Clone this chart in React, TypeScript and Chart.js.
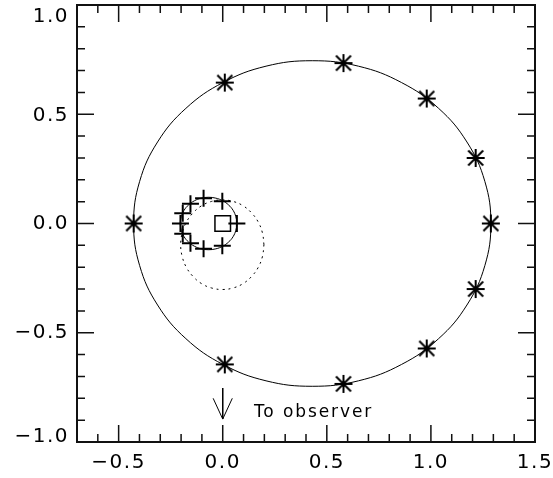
import React, { useEffect, useRef } from 'react';
import { Chart, registerables } from 'chart.js';

Chart.register(...registerables);

// Outer orbit (solid line)
const bigOrbitX = [1.288, 1.259, 1.173, 1.037, 0.859, 0.652, 0.430, 0.208, 0.001, -0.177, -0.313, -0.399, -0.428, -0.399, -0.313, -0.177, 0.001, 0.208, 0.430, 0.652, 0.859, 1.037, 1.173, 1.259];
const bigOrbitY = [0, 0.193, 0.373, 0.527, 0.645, 0.720, 0.745, 0.720, 0.645, 0.527, 0.373, 0.193, 0, -0.193, -0.373, -0.527, -0.645, -0.720, -0.745, -0.720, -0.645, -0.527, -0.373, -0.193];

// Inner orbit (solid line)
const smallOrbitX = [0.068, 0.063, 0.050, 0.028, 0.000, -0.033, -0.068, -0.103, -0.136, -0.164, -0.186, -0.199, -0.204, -0.199, -0.186, -0.164, -0.136, -0.103, -0.068, -0.033, 0.000, 0.028, 0.050, 0.063];
const smallOrbitY = [0, 0.031, 0.060, 0.085, 0.104, 0.116, 0.120, 0.116, 0.104, 0.085, 0.060, 0.031, 0, -0.031, -0.060, -0.085, -0.104, -0.116, -0.120, -0.116, -0.104, -0.085, -0.060, -0.031];

// Dotted circle
const dottedX = [0.198, 0.191, 0.171, 0.139, 0.098, 0.050, -0.002, -0.054, -0.102, -0.143, -0.175, -0.195, -0.202, -0.195, -0.175, -0.143, -0.102, -0.054, -0.002, 0.050, 0.098, 0.139, 0.171, 0.191];
const dottedY = [-0.097, -0.044, 0.006, 0.048, 0.081, 0.101, 0.108, 0.101, 0.081, 0.048, 0.006, -0.044, -0.097, -0.150, -0.200, -0.242, -0.275, -0.295, -0.302, -0.295, -0.275, -0.242, -0.200, -0.150];

// Asterisk markers on the outer orbit
const asteriskX = [-0.428, 0.01, 0.58, 0.98, 1.215, 1.288, 1.215, 0.98, 0.58, 0.01];
const asteriskY = [0, 0.645, 0.734, 0.572, 0.30, 0, -0.30, -0.572, -0.734, -0.645];

// Plus markers on the inner orbit
const plusX = [0.068, -0.002, -0.092, -0.155, -0.192, -0.203, -0.192, -0.155, -0.092, -0.002];
const plusY = [0, -0.102, -0.116, -0.09, -0.047, 0, 0.047, 0.09, 0.116, 0.102];

// Centre square
const centreX = [0.0];
const centreY = [0.0];

// "To observer" arrow
const arrowShaftX = [0, 0];
const arrowShaftY = [-0.753, -0.895];
const arrowHeadX = [-0.046, 0, 0.046];
const arrowHeadY = [-0.80, -0.895, -0.80];
const observerLabel = 'To observer';
const observerLabelX = 0.15;
const observerLabelY = -0.885;

// Axes
const xMin = -0.7;
const xMax = 1.5;
const yMin = -1.0;
const yMax = 1.0;
const xMajorTicks = [-0.5, 0.0, 0.5, 1.0, 1.5];
const xTickLabels = ['\u22120.5', '0.0', '0.5', '1.0', '1.5'];
const xMinorTicks = [-0.7, -0.6, -0.4, -0.3, -0.2, -0.1, 0.1, 0.2, 0.3, 0.4, 0.6, 0.7, 0.8, 0.9, 1.1, 1.2, 1.3, 1.4];
const yMajorTicks = [-1.0, -0.5, 0.0, 0.5, 1.0];
const yTickLabels = ['\u22121.0', '\u22120.5', '0.0', '0.5', '1.0'];
const yMinorTicks = [-0.9, -0.8, -0.7, -0.6, -0.4, -0.3, -0.2, -0.1, 0.1, 0.2, 0.3, 0.4, 0.6, 0.7, 0.8, 0.9];

// style only: vertical nudges of the y labels (px)
const yLabelNudge = [-5, 0, 0, 2, 12];

const pts = (xs: number[], ys: number[]) => xs.map((x, i) => ({ x, y: ys[i] }));
// closed smooth loop: wrap three points so the seam gets proper tangents
const loopPts = (xs: number[], ys: number[]) => {
  const p = pts(xs, ys);
  return p.concat([p[0], p[1], p[2]]);
};

function makeAsterisk(): HTMLCanvasElement {
  const c = document.createElement('canvas');
  c.width = 20;
  c.height = 20;
  const g = c.getContext('2d')!;
  g.strokeStyle = '#000';
  g.lineWidth = 2;
  g.beginPath();
  g.moveTo(10, 1); g.lineTo(10, 19);
  g.moveTo(1, 10); g.lineTo(19, 10);
  g.moveTo(2.5, 2.5); g.lineTo(17.5, 17.5);
  g.moveTo(17.5, 2.5); g.lineTo(2.5, 17.5);
  g.stroke();
  return c;
}

const framePlugin = {
  id: 'idlFrame',
  beforeDraw(chart: any) {
    chart.ctx.letterSpacing = '1.5px';
  },
  afterDraw(chart: any) {
    const ctx = chart.ctx as CanvasRenderingContext2D;
    const { left, right, top, bottom } = chart.chartArea;
    const xs = chart.scales.x;
    const ys = chart.scales.y;
    ctx.save();
    ctx.strokeStyle = '#111';
    ctx.lineWidth = 1.5;
    ctx.beginPath();
    const major = 17;
    const minor = 8;
    xMajorTicks.concat(xMinorTicks).forEach((v) => {
      const len = xMajorTicks.includes(v) ? major : minor;
      const px = xs.getPixelForValue(v);
      ctx.moveTo(px, bottom); ctx.lineTo(px, bottom - len);
      ctx.moveTo(px, top); ctx.lineTo(px, top + len);
    });
    yMajorTicks.concat(yMinorTicks).forEach((v) => {
      const len = yMajorTicks.includes(v) ? major : minor;
      const py = ys.getPixelForValue(v);
      ctx.moveTo(left, py); ctx.lineTo(left + len, py);
      ctx.moveTo(right, py); ctx.lineTo(right - len, py);
    });
    ctx.stroke();
    ctx.lineWidth = 2;
    ctx.strokeRect(left, top, right - left, bottom - top);

    ctx.fillStyle = '#000';
    ctx.font = '20px "DejaVu Sans"';
    (ctx as any).letterSpacing = '1.5px';
    ctx.textAlign = 'right';
    ctx.textBaseline = 'middle';
    yMajorTicks.forEach((v, i) => {
      ctx.fillText(yTickLabels[i], left - 8, ys.getPixelForValue(v) + yLabelNudge[i]);
    });

    (ctx as any).letterSpacing = '1.9px';
    ctx.font = '17px "DejaVu Sans"';
    ctx.textAlign = 'left';
    ctx.textBaseline = 'alphabetic';
    ctx.fillText(observerLabel, xs.getPixelForValue(observerLabelX), ys.getPixelForValue(observerLabelY));
    ctx.restore();
    (ctx as any).letterSpacing = '0px';
  },
};

export default function App() {
  const ref = useRef<HTMLCanvasElement | null>(null);
  useEffect(() => {
    if (!ref.current) return;
    const asterisk = makeAsterisk();
    const lineDs = (data: any[], extra: any = {}) => ({
      data,
      showLine: true,
      pointRadius: 0,
      borderColor: '#000',
      borderWidth: 1,
      fill: false,
      ...extra,
    });
    // hide the first and last segments of a wrapped loop (their tangents are one-sided)
    const loopDs = (data: any[], extra: any = {}) =>
      lineDs(data, {
        tension: 0.4,
        segment: {
          borderColor: (c: any) =>
            c.p0DataIndex === 0 || c.p1DataIndex === data.length - 1 ? 'rgba(0,0,0,0)' : '#000',
        },
        ...extra,
      });
    const chart = new Chart(ref.current, {
      type: 'scatter',
      data: {
        datasets: [
          {
            data: pts(asteriskX, asteriskY),
            showLine: false,
            pointStyle: asterisk as any,
            pointRadius: 10,
            borderColor: '#000',
          },
          {
            data: pts(plusX, plusY),
            showLine: false,
            pointStyle: 'cross',
            pointRadius: 8.5,
            borderWidth: 2,
            borderColor: '#000',
          },
          {
            data: pts(centreX, centreY),
            showLine: false,
            pointStyle: 'rect',
            pointRadius: 11,
            borderWidth: 1.5,
            borderColor: '#000',
            backgroundColor: 'rgba(0,0,0,0)',
          },
          loopDs(loopPts(bigOrbitX, bigOrbitY)),
          loopDs(loopPts(smallOrbitX, smallOrbitY)),
          lineDs(pts(dottedX, dottedY).concat([{ x: dottedX[0], y: dottedY[0] }]), { tension: 0.4, borderDash: [2, 4] }),
          lineDs(pts(arrowShaftX, arrowShaftY)),
          lineDs(pts(arrowHeadX, arrowHeadY)),
        ],
      },
      options: {
        responsive: false,
        animation: false,
        events: [],
        layout: { autoPadding: false, padding: { top: 5, right: 18, left: 0, bottom: 0 } },
        plugins: { legend: { display: false }, tooltip: { enabled: false } },
        scales: {
          x: {
            type: 'linear',
            min: xMin,
            max: xMax,
            grid: { display: false, drawTicks: false },
            border: { display: false },
            afterBuildTicks: (scale: any) => {
              scale.ticks = xMajorTicks.map((value) => ({ value }));
            },
            afterFit: (scale: any) => {
              scale.height = 36;
              scale.paddingLeft = 0;
              scale.paddingRight = 0;
            },
            ticks: {
              autoSkip: false,
              maxRotation: 0,
              padding: 9,
              color: '#000',
              font: { family: 'DejaVu Sans', size: 20 },
              callback: (_v: any, i: number) => xTickLabels[i],
            },
          },
          y: {
            type: 'linear',
            min: yMin,
            max: yMax,
            grid: { display: false, drawTicks: false },
            border: { display: false },
            ticks: { display: false },
            afterFit: (scale: any) => {
              scale.width = 77;
              scale.paddingTop = 0;
              scale.paddingBottom = 0;
            },
          },
        },
      },
      plugins: [framePlugin],
    } as any);
    return () => chart.destroy();
  }, []);
  return (
    <div style={{ position: 'absolute', left: 0, top: 0, width: 553, height: 478, background: '#fff' }}>
      <canvas ref={ref} width={553} height={478} style={{ display: 'block' }} />
    </div>
  );
}
